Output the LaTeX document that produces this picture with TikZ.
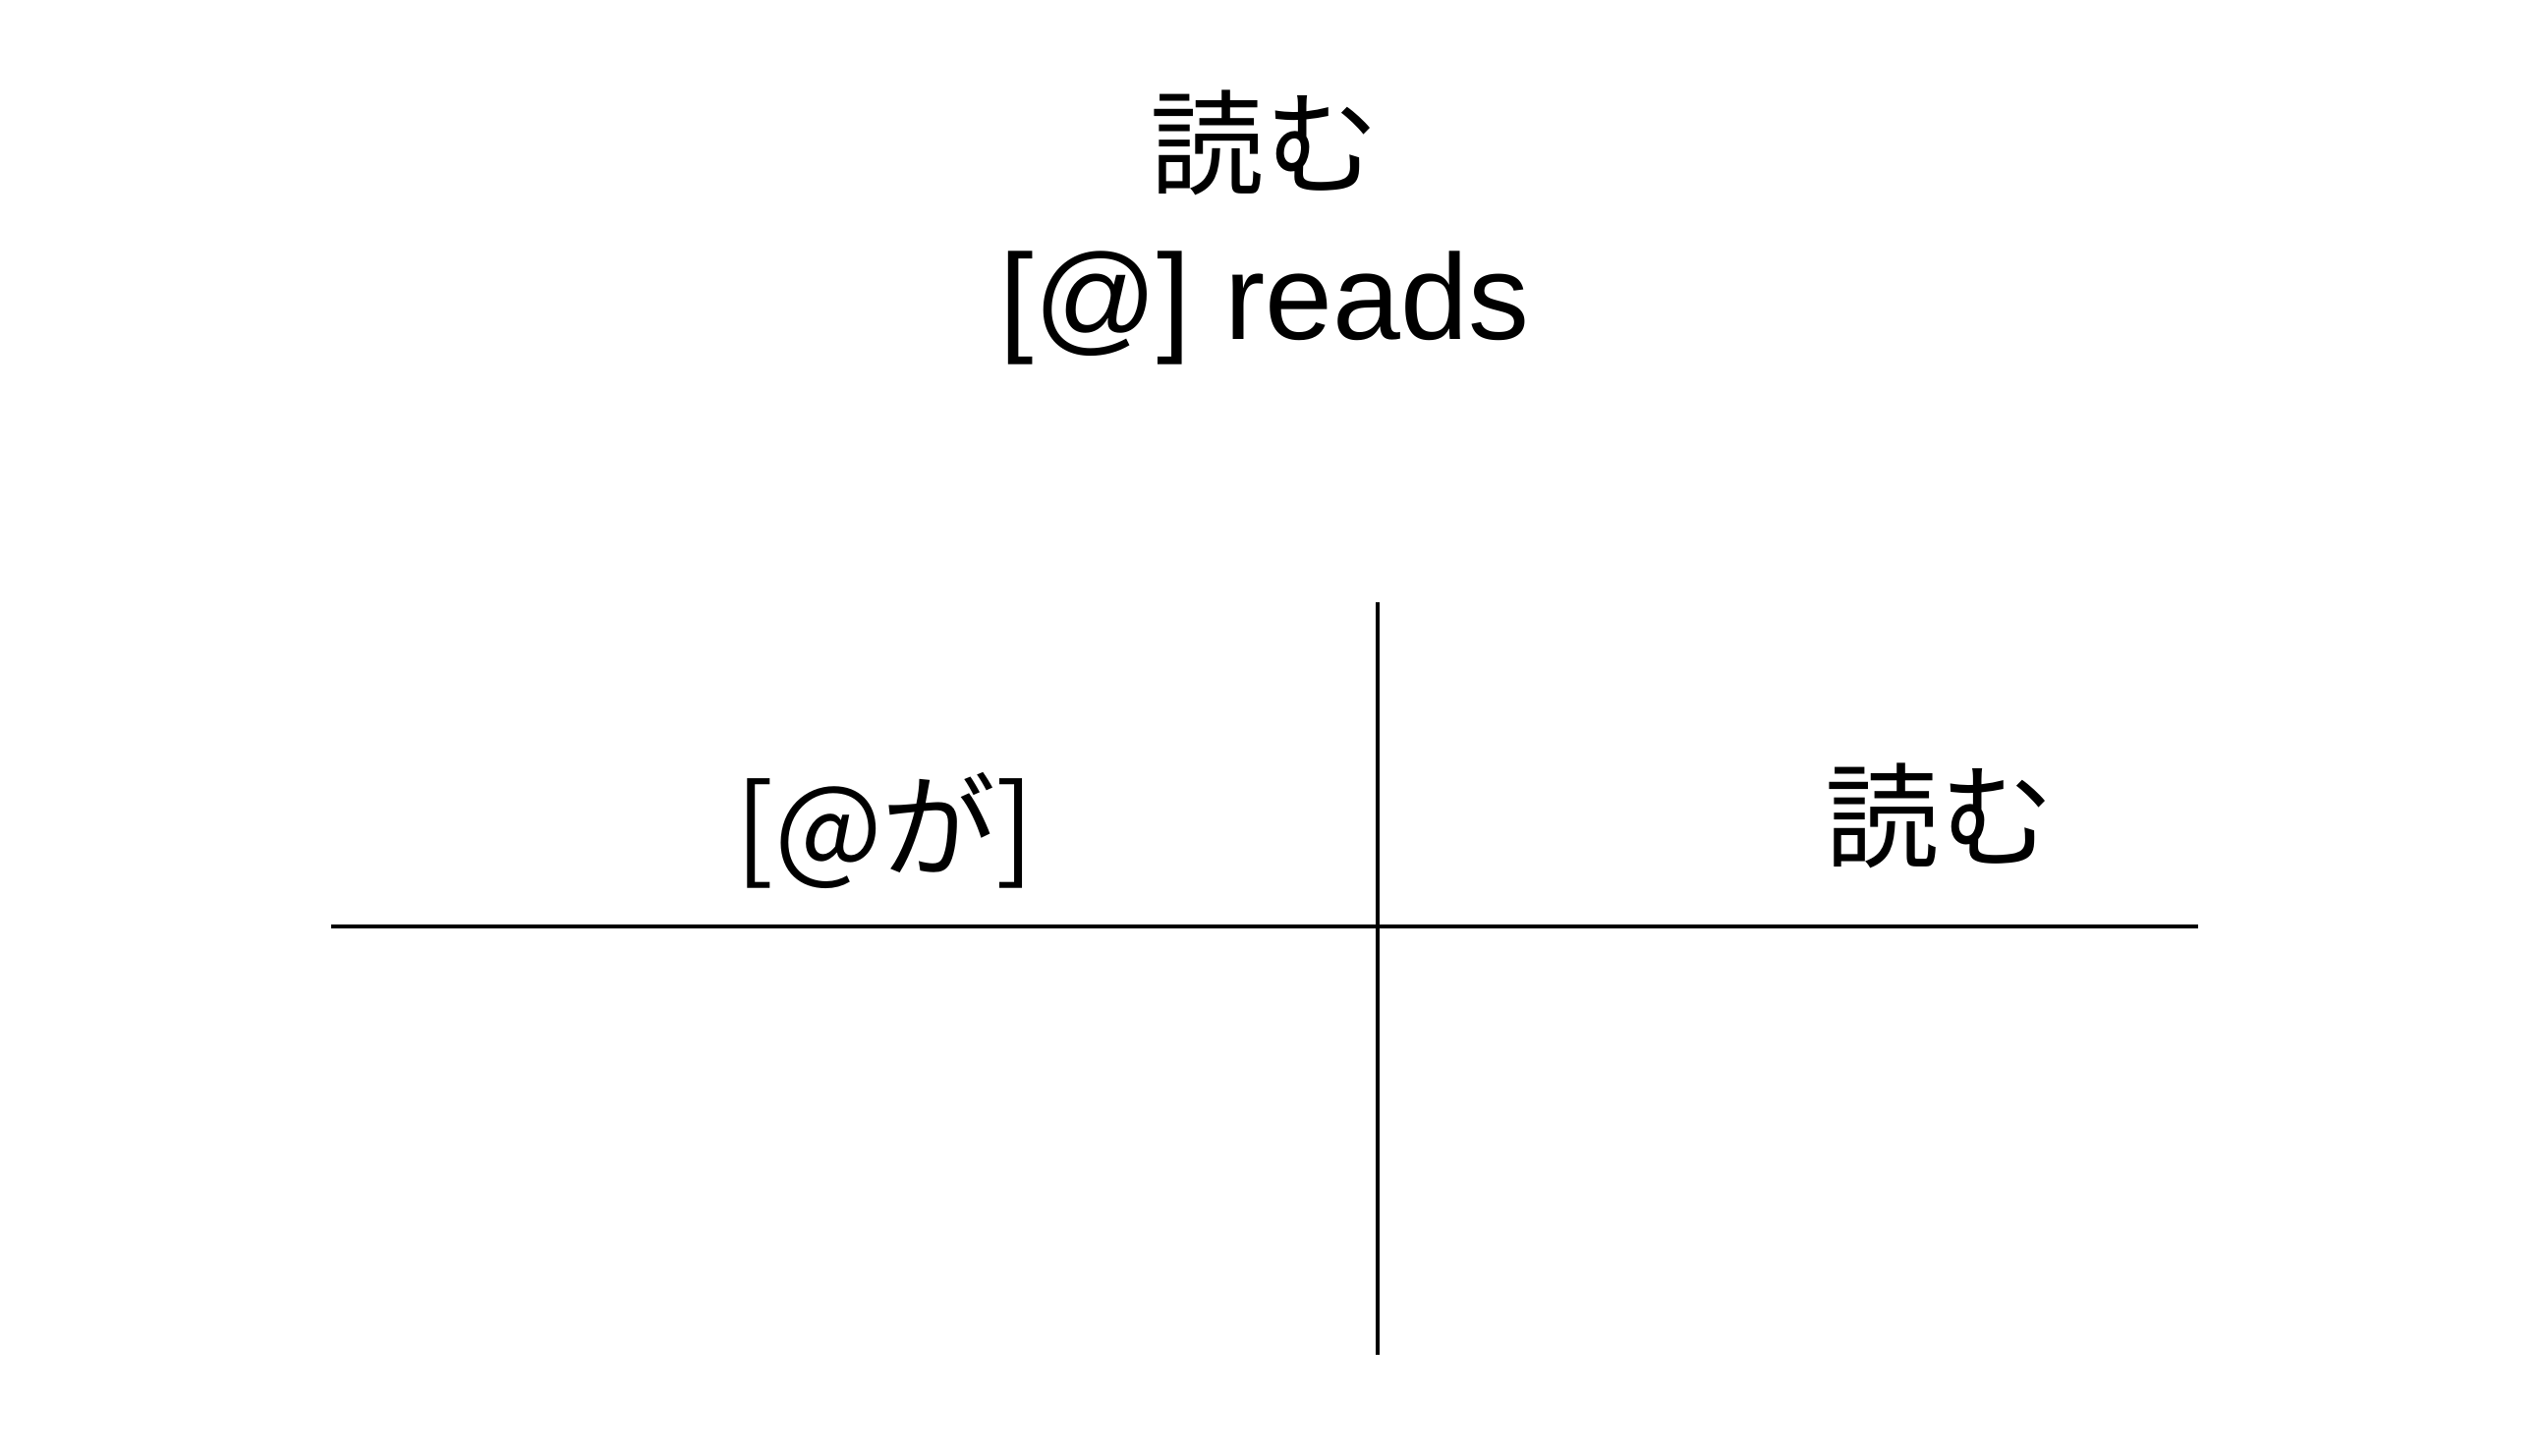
\documentclass[tikz,border=0pt]{standalone}
\usepackage{fontspec}
\setmainfont{Liberation Sans}
\newfontfamily\jp{Noto Sans CJK JP}
\usepackage{tikz}
\usetikzlibrary{positioning}
\tikzset{
  etiq/.style={inner sep=0pt,font=\fontsize{33}{40}\selectfont\jp},
  glosa/.style={inner sep=0pt,font=\fontsize{35.2}{42}\selectfont}
}
\tikzset{raya/.style={line width=1.15pt,black}}

\begin{document}
\begin{tikzpicture}[x=0.01cm,y=-0.01cm]
\useasboundingbox (0,0) rectangle (2590,1482);
% encabezado
\node[etiq] (verbo) at (1287,145) {読む};
\node[glosa] (trad) at (1287,313) {[@] reads};
% cruz
\coordinate (arr) at (1402,613);
\coordinate (aba) at (1402,1379);
\coordinate (izq) at (337,943);
\coordinate (der) at (2237,943);
\draw[raya] (arr)--(aba);
\draw[raya] (izq)--(der);
\node[etiq] (suj) at (901,845) {[@が]};
\node[etiq] (pred) at (1974,830) {読む};
\end{tikzpicture}
\end{document}
